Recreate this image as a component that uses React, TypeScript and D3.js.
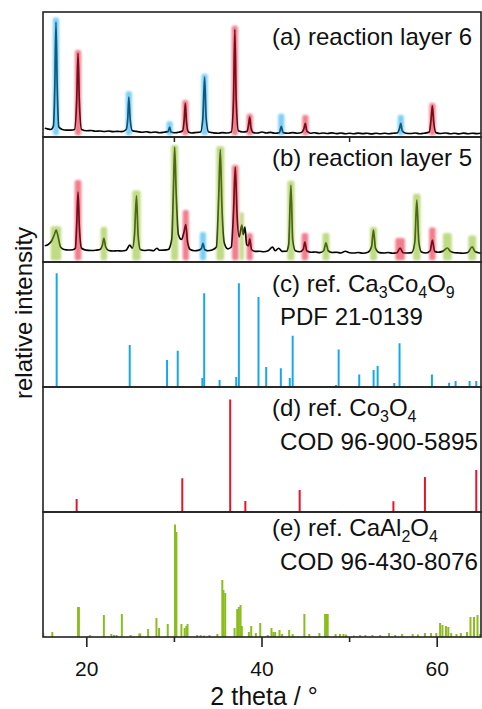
import React from "react";
import * as d3 from "d3";

// measured pattern, reaction layer 6: [2theta, intensity]
const traceA: [number, number][] = [
  [15.2, 7], [15.5, 6.5], [15.9, 6], [16.2, 9], [16.35, 40], [16.48, 92], [16.62, 40], [16.8, 8],
  [17.2, 6], [17.7, 5.5], [18.2, 5.5], [18.6, 6], [18.85, 30], [19.0, 67], [19.15, 28], [19.4, 6],
  [20, 5], [20.5, 5.2], [21, 4.6], [21.5, 4.8], [22, 4.4], [22.5, 4.8], [23, 4.3], [23.5, 4.5],
  [24, 4.3], [24.5, 6], [24.68, 15], [24.8, 32], [24.95, 14], [25.2, 5], [25.8, 4.3], [26.3, 3.8],
  [26.8, 4.2], [27.3, 3.6], [27.8, 4], [28.3, 3.4], [28.8, 3.8], [29.3, 4.5], [29.46, 8], [29.6, 4],
  [30, 3.4], [30.5, 3.8], [30.95, 5], [31.12, 14], [31.25, 27], [31.38, 12], [31.6, 4], [32, 3.2],
  [32.5, 3.6], [33.0, 4], [33.25, 15], [33.45, 48], [33.62, 15], [33.9, 4], [34.4, 3.4], [35, 3],
  [35.5, 3.5], [36, 3.2], [36.5, 4], [36.75, 30], [36.9, 86], [37.05, 30], [37.3, 5], [37.8, 4],
  [38.3, 4.5], [38.45, 9], [38.6, 16], [38.75, 7], [39, 3.5], [39.5, 3.2], [40, 4], [40.5, 3.2],
  [41, 3.7], [41.5, 3], [42, 3.5], [42.2, 8.5], [42.4, 3.5], [43, 3], [43.5, 3.5], [44, 3],
  [44.5, 3.6], [44.8, 7], [44.95, 11], [45.1, 5], [45.5, 3], [46, 3.4], [46.5, 2.8], [47, 3.2],
  [47.5, 2.8], [48, 3.3], [48.5, 2.7], [49, 3.2], [49.5, 2.6], [50, 3], [50.5, 2.6], [51, 3.1],
  [51.5, 2.7], [52, 3], [52.5, 2.5], [53, 3], [53.5, 2.6], [54, 3], [54.5, 2.6], [55, 3],
  [55.5, 3.4], [55.7, 7], [55.85, 11], [56, 5], [56.4, 3], [57, 2.8], [57.5, 3.2], [58, 2.6],
  [58.5, 3], [59.1, 4], [59.3, 14], [59.45, 25], [59.6, 12], [59.85, 3.5], [60.3, 2.8], [61, 3.2],
  [61.5, 2.6], [62, 3], [62.5, 2.5], [63, 3.1], [63.5, 2.6], [64, 3], [64.5, 2.7], [65, 3],
];

// measured pattern, reaction layer 5
const traceB: [number, number][] = [
  [15.2, 13], [15.6, 14], [16.0, 17], [16.3, 22], [16.5, 25.6], [16.7, 21], [17.0, 12], [17.4, 10],
  [17.9, 9.6], [18.4, 9.8], [18.7, 11], [18.85, 30], [19.0, 56], [19.15, 28], [19.4, 11], [19.9, 9.5],
  [20.5, 9.2], [21, 9.4], [21.5, 10], [21.8, 14], [21.95, 19], [22.15, 12], [22.5, 9.2], [23, 8.8],
  [23.5, 9], [24, 8.8], [24.5, 9.4], [24.9, 13.5], [25.2, 11], [25.45, 22], [25.67, 53], [25.85, 22],
  [26.1, 10], [26.6, 9.2], [27.1, 9.6], [27.6, 9], [28.0, 11], [28.3, 9.4], [28.8, 9.5], [29.3, 10],
  [29.7, 18], [29.9, 60], [30.03, 92], [30.2, 55], [30.45, 22], [30.8, 18], [31.1, 24], [31.3, 30],
  [31.5, 16], [31.8, 10], [32.3, 9], [32.8, 9.5], [33.1, 11], [33.26, 15], [33.45, 10], [33.8, 9],
  [34.3, 9.6], [34.8, 12], [35.05, 50], [35.24, 90], [35.42, 45], [35.7, 15], [36.1, 10.5], [36.5, 12],
  [36.75, 40], [36.95, 76], [37.15, 38], [37.4, 20], [37.7, 29.6], [37.85, 22], [38.05, 28], [38.25, 14],
  [38.45, 13], [38.6, 18.5], [38.8, 10], [39.2, 8.5], [39.7, 8.6], [40.2, 8.2], [40.7, 9], [41.2, 12],
  [41.5, 9], [41.9, 11], [42.3, 8.5], [42.8, 8.6], [43.05, 14], [43.3, 61.6], [43.5, 18], [43.8, 9],
  [44.3, 8.2], [44.7, 10], [44.9, 16], [45.1, 9], [45.6, 7.8], [46.1, 8], [46.6, 7.5], [47.05, 9],
  [47.3, 15.4], [47.55, 9], [48, 7.6], [48.5, 7.8], [49, 7.2], [49.5, 8.6], [50, 7.4], [50.5, 7.2],
  [51, 7.6], [51.5, 7], [52.1, 7.8], [52.5, 12], [52.73, 25.6], [52.95, 11], [53.4, 7.5], [53.9, 7.2],
  [54.4, 7.6], [54.9, 7], [55.4, 7.4], [55.77, 11.2], [56.1, 7.4], [56.6, 7.2], [57.1, 7.5], [57.45, 16],
  [57.67, 49.6], [57.9, 16], [58.2, 8], [58.7, 7.2], [59.2, 9], [59.45, 17.6], [59.7, 8.5], [60.1, 7.8],
  [60.6, 8.5], [61.16, 11.2], [61.5, 8.6], [62, 7.4], [62.5, 7.2], [63, 7], [63.5, 7.6], [64, 12.2],
  [64.3, 8.4], [64.7, 7.4], [65, 7.2],
];

// phase markers: [2theta, top intensity, width in degrees, phase]
const bandsA: [number, number, number, string][] = [
  [16.48, 94, 0.7, "cco"], [19.0, 68, 0.7, "co"], [24.8, 35, 0.7, "cco"], [29.46, 11, 0.7, "cco"],
  [31.25, 28, 0.7, "co"], [33.45, 49, 0.7, "cco"], [36.9, 87.5, 0.7, "co"], [38.6, 17, 0.7, "co"],
  [42.2, 17, 0.7, "cco"], [44.95, 16, 0.7, "co"], [55.85, 16, 0.7, "cco"], [59.45, 25.6, 0.7, "co"],
];

const bandsB: [number, number, number, string][] = [
  [16.48, 27, 1.2, "cao"], [19.0, 64, 0.75, "co"], [21.95, 26.4, 0.75, "cao"], [25.67, 55.7, 0.95, "cao"],
  [30.03, 92, 0.8, "cao"], [31.3, 40, 0.7, "co"], [33.26, 22.4, 0.7, "cco"], [35.24, 91, 0.9, "cao"],
  [36.95, 76, 0.75, "co"], [37.7, 38.4, 0.45, "cao"], [38.6, 21.6, 0.7, "co"], [43.3, 63.5, 0.8, "cao"],
  [44.9, 21.6, 0.75, "co"], [47.3, 21.6, 0.8, "cao"], [52.73, 26.4, 0.8, "cao"], [55.77, 17.6, 1.1, "co"],
  [57.67, 53, 0.85, "cao"], [59.45, 26, 0.75, "co"], [61.16, 21.6, 1.0, "cao"], [64.0, 19.7, 0.9, "cao"],
];

// reference line patterns: [2theta, intensity]
const refCaCoO: [number, number][] = [
  [16.56, 91], [24.9, 33.6], [29.16, 21.6], [30.38, 29], [33.19, 7.2], [33.4, 75], [35.16, 5.6],
  [37.06, 8], [37.36, 83], [39.6, 72], [40.48, 16], [42.15, 15], [43.17, 7.2], [43.5, 41],
  [48.45, 1.6], [48.75, 30], [51.1, 10], [52.74, 13.6], [53.2, 16.8], [55.1, 3.2], [55.7, 35],
  [59.4, 10], [61.36, 3.4], [62.1, 4.8], [63.7, 4.8], [64.46, 4.8],
];

const refCoO: [number, number][] = [
  [18.84, 10.4], [30.9, 27], [36.37, 90], [38.1, 8.8], [44.3, 17.6], [48.5, 0.8], [55.0, 8.6],
  [58.6, 28], [64.46, 33.6],
];

const refCaAlO: [number, number][] = [
  [15.03, 3], [16.06, 4], [19.0, 24], [19.1, 24], [20.35, 1.6], [21.95, 17.6], [22.8, 2.4], [23.1, 1.6],
  [23.4, 1.6], [24.0, 18.4], [25.0, 1.6], [26.0, 2.8], [26.1, 2.8], [27.0, 6.4], [27.95, 15.2],
  [28.25, 7.2], [29.24, 10.4], [30.07, 90], [30.23, 84], [30.8, 10.4], [31.17, 7.2], [31.37, 8.8],
  [31.5, 10.4], [32.6, 1.6], [33.0, 1.6], [33.4, 1.2], [34.0, 1.6], [34.9, 2.4], [35.47, 45.6],
  [35.6, 37.6], [35.8, 35.2], [36.87, 7.2], [37.17, 22.4], [37.36, 24], [37.55, 25.6], [37.7, 8.8],
  [38.5, 4], [38.77, 8.8], [39.3, 3.2], [39.8, 11.2], [40.66, 1.6], [41.08, 7.2], [41.3, 4], [41.5, 4],
  [42.0, 5.6], [42.3, 2.4], [43.1, 5.6], [43.5, 2.4], [44.84, 18.4], [45.4, 2.4], [46.55, 3.2],
  [47.2, 18.4], [47.4, 18.4], [47.5, 18.4], [48.4, 2.4], [48.9, 2.4], [49.3, 2.4], [49.6, 2],
  [50.5, 1.2], [51.2, 1.6], [51.8, 1.6], [52.6, 1.6], [53.5, 1.6], [54.5, 3.2], [55.2, 1.6],
  [56.0, 2.4], [57.2, 2.4], [57.8, 2], [58.6, 3.2], [59.3, 3.2], [59.9, 3.2], [60.33, 11.2],
  [60.6, 9.6], [61.0, 8.8], [61.27, 8], [61.6, 3.2], [62.2, 2.4], [62.7, 3.2], [63.4, 4], [63.8, 16],
  [64.2, 16], [64.6, 17.6], [64.9, 2.4],
];

const majorTicks = [20, 40, 60];
const minorTicks = [30, 50];

// label pieces: [text, isSubscript]
const labelC: [string, boolean][] = [["(c) ref. Ca", false], ["3", true], ["Co", false], ["4", true], ["O", false], ["9", true]];
const labelD: [string, boolean][] = [["(d) ref. Co", false], ["3", true], ["O", false], ["4", true]];
const labelE: [string, boolean][] = [["(e) ref. CaAl", false], ["2", true], ["O", false], ["4", true]];

const colors: Record<string, string> = {
  cco: "#16a8ec",
  co: "#e3152f",
  cao: "#8bbd1e",
};

const W = 482;
const H = 709;
const left = 43;
const right = 481;
const top0 = 12;
const panelH = 125;
const font = "'Liberation Sans', Arial, Helvetica, sans-serif";

const x = d3.scaleLinear().domain([15, 65]).range([left, right]);

const App = () => {
  const panelTop = (i: number) => top0 + i * panelH;
  const yFor = (i: number) =>
    d3.scaleLinear().domain([0, 100]).range([panelTop(i) + panelH, panelTop(i)]);

  const line = (i: number) =>
    d3
      .line<[number, number]>()
      .x((d) => x(d[0]))
      .y((d) => yFor(i)(d[1]))
      .curve(d3.curveMonotoneX);

  const bands = (data: [number, number, number, string][], i: number) => {
    const y = yFor(i);
    return data.map((b, k) => {
      const x0 = x(b[0] - b[2] / 2);
      const x1 = x(b[0] + b[2] / 2);
      return (
        <rect
          key={k}
          x={x0}
          y={y(b[1]) - 2}
          width={x1 - x0}
          height={y(1.5) - y(b[1]) + 2}
          rx={2}
          fill={colors[b[3]]}
          fillOpacity={0.55}
          filter="url(#glow)"
        />
      );
    });
  };

  const sticks = (data: [number, number][], i: number, color: string) => {
    const y = yFor(i);
    return data.map((d, k) => (
      <line
        key={k}
        x1={x(d[0])}
        x2={x(d[0])}
        y1={y(0)}
        y2={y(d[1])}
        stroke={color}
        strokeWidth={2}
      />
    ));
  };

  // subscripts drop 6px, the next normal piece comes back up
  const formula = (parts: [string, boolean][]) =>
    parts.map((p, k) => {
      const prevSub = k > 0 && parts[k - 1][1];
      return (
        <tspan key={k} fontSize={p[1] ? 16 : 24} dy={p[1] ? 6 : prevSub ? -6 : 0}>
          {p[0]}
        </tspan>
      );
    });

  const bottom = panelTop(5);

  return (
    <svg
      width={W}
      height={H}
      style={{ position: "absolute", left: 0, top: 0, background: "#fff" }}
      fontFamily={font}
    >
      <defs>
        <filter id="glow" x="-50%" y="-10%" width="200%" height="120%">
          <feGaussianBlur stdDeviation={1.1} />
        </filter>
        <clipPath id="plot">
          <rect x={left} y={top0} width={right - left} height={panelH * 5} />
        </clipPath>
      </defs>
      <rect width={W} height={H} fill="#fff" />

      <g clipPath="url(#plot)">
        {/* measured patterns */}
        <path d={line(0)(traceA) || ""} fill="none" stroke="#000" strokeWidth={1.7} />
        {bands(bandsA, 0)}
        <path d={line(1)(traceB) || ""} fill="none" stroke="#000" strokeWidth={1.7} />
        {bands(bandsB, 1)}

        {/* reference patterns */}
        {sticks(refCaCoO, 2, colors.cco)}
        {sticks(refCoO, 3, colors.co)}
        {sticks(refCaAlO, 4, colors.cao)}
      </g>

      {/* panel frames */}
      {[0, 1, 2, 3, 4].map((i) => (
        <rect
          key={i}
          x={left}
          y={panelTop(i)}
          width={right - left}
          height={panelH}
          fill="none"
          stroke="#222"
          strokeWidth={1.6}
        />
      ))}

      {/* small ticks between panels */}
      {minorTicks.map((t) => (
        <line key={"m" + t} x1={x(t)} x2={x(t)} y1={panelTop(1)} y2={panelTop(1) + 5} stroke="#222" strokeWidth={1.5} />
      ))}

      {/* bottom axis */}
      {majorTicks.map((t) => (
        <g key={t}>
          <line x1={x(t)} x2={x(t)} y1={bottom} y2={bottom + 10} stroke="#222" strokeWidth={1.6} />
          <text x={x(t)} y={676} textAnchor="middle" fontSize={21} fill="#111">
            {t}
          </text>
        </g>
      ))}
      {minorTicks.map((t) => (
        <line key={"b" + t} x1={x(t)} x2={x(t)} y1={bottom} y2={bottom + 5} stroke="#222" strokeWidth={1.6} />
      ))}

      <text x={(left + right) / 2 + 2} y={705} textAnchor="middle" fontSize={25} fill="#111">
        2 theta / °
      </text>
      <text
        transform="translate(31.5,313) rotate(-90)"
        textAnchor="middle"
        fontSize={24}
        fill="#111"
      >
        relative intensity
      </text>

      {/* panel labels */}
      <g fontSize={24} fill="#111">
        <text x={272} y={45}>(a) reaction layer 6</text>
        <text x={272} y={166}>(b) reaction layer 5</text>
        <text x={272} y={292}>{formula(labelC)}</text>
        <text x={280} y={325}>PDF 21-0139</text>
        <text x={272} y={416}>{formula(labelD)}</text>
        <text x={280} y={450} textLength={198} lengthAdjust="spacingAndGlyphs">
          COD 96-900-5895
        </text>
        <text x={272} y={536}>{formula(labelE)}</text>
        <text x={280} y={570} textLength={198} lengthAdjust="spacingAndGlyphs">
          COD 96-430-8076
        </text>
      </g>
    </svg>
  );
};

export default App;
